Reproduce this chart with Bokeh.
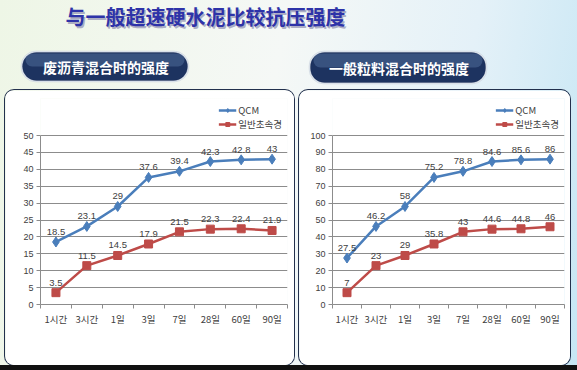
from bokeh.plotting import figure
from bokeh.models import (FactorRange, Range1d, LinearAxis, CategoricalAxis, FixedTicker,
                          Legend, LegendItem, ColumnDataSource, BoxAnnotation, Label, Spacer)
from bokeh.layouts import column, row
from bokeh.core.properties import value
from bokeh.embed import file_html
from bokeh.resources import INLINE

# ---- data ----
CATS = ["1시간", "3시간", "1일", "3일", "7일", "28일", "60일", "90일"]
LEFT_QCM = [18.5, 23.1, 29, 37.6, 39.4, 42.3, 42.8, 43]
LEFT_GEN = [3.5, 11.5, 14.5, 17.9, 21.5, 22.3, 22.4, 21.9]
RIGHT_QCM = [27.5, 46.2, 58, 75.2, 78.8, 84.6, 85.6, 86]
RIGHT_GEN = [7, 23, 29, 35.8, 43, 44.6, 44.8, 46]
SERIES = ["QCM", "일반초속경"]
TITLE = "与一般超速硬水泥比较抗压强度"
SUB_LEFT = "废沥青混合时的强度"
SUB_RIGHT = "一般粒料混合时的强度"

BLUE = "#4a7ebb"
RED = "#be4b48"
TXT = "#404040"
GRID = "#8c8c8c"
KR = "Noto Sans CJK KR"
CN = "Noto Sans CJK SC"


def fmt(v):
    return f"{v:g}"


def make_chart(qcm, gen, ymax, ystep, width, bl, br, lmargin):
    frame_h = 169
    extra = 37
    y_end = ymax + extra * ymax / frame_h
    p = figure(width=width, height=275, title=None,
               x_range=FactorRange(*CATS, range_padding=0),
               y_range=Range1d(0, y_end),
               x_axis_location=None, y_axis_location=None,
               output_backend="svg", toolbar_location=None,
               min_border_left=bl, min_border_right=br,
               min_border_top=8, min_border_bottom=61,
               background_fill_color="white", border_fill_color="white",
               outline_line_color=None)
    p.xgrid.visible = False
    ticks = list(range(0, ymax + 1, ystep))
    p.ygrid.ticker = FixedTicker(ticks=ticks)
    p.ygrid.grid_line_color = GRID
    p.ygrid.grid_line_width = 1

    yax = LinearAxis(ticker=FixedTicker(ticks=ticks), bounds=(0, ymax),
                     axis_line_color=GRID, major_tick_line_color=GRID,
                     major_tick_out=4, major_tick_in=0, minor_tick_line_color=None,
                     major_label_text_font_size="9px", major_label_text_color=TXT,
                     major_label_text_font="Liberation Sans", major_label_standoff=3)
    p.add_layout(yax, "left")

    # tick marks on category boundaries (synthetic coordinates of the factor range)
    edge_ticks = list(range(len(CATS) + 1))
    tax = LinearAxis(ticker=FixedTicker(ticks=edge_ticks),
                     major_label_overrides={t: "" for t in edge_ticks},
                     axis_line_color=GRID, major_tick_line_color=GRID,
                     major_tick_out=4, major_tick_in=0, minor_tick_line_color=None,
                     major_label_text_font_size="1px", major_label_standoff=0)
    p.add_layout(tax, "below")
    cax = CategoricalAxis(axis_line_color=None, major_tick_line_color=None,
                          minor_tick_line_color=None,
                          major_label_text_font_size="9.5px", major_label_text_color=TXT,
                          major_label_text_font=KR, major_label_standoff=-3)
    p.add_layout(cax, "below")

    src = ColumnDataSource(dict(x=CATS, qcm=qcm, gen=gen,
                                qlab=[fmt(v) for v in qcm], glab=[fmt(v) for v in gen]))
    lq = p.line("x", "qcm", source=src, line_color=BLUE, line_width=2.5)
    mq = p.scatter("x", "qcm", source=src, marker="diamond", size=10,
                   fill_color=BLUE, line_color=BLUE)
    lg = p.line("x", "gen", source=src, line_color=RED, line_width=2.5)
    mg = p.scatter("x", "gen", source=src, marker="square", size=8,
                   fill_color=RED, line_color=RED)
    for col, lab in (("qcm", "qlab"), ("gen", "glab")):
        p.text("x", col, text=lab, source=src, text_align="center",
               text_baseline="bottom", y_offset=-7, text_font_size="9.5px",
               text_color=TXT, text_font=value("Liberation Sans"))

    legend = Legend(items=[LegendItem(label=SERIES[0], renderers=[lq, mq]),
                           LegendItem(label=SERIES[1], renderers=[lg, mg])],
                    location="top_right", margin=lmargin, padding=0, spacing=0,
                    glyph_width=18, glyph_height=10, label_height=10,
                    label_standoff=2, label_text_font_size="9.5px",
                    label_text_font=KR, label_text_color=TXT,
                    border_line_color=None, background_fill_alpha=0)
    p.add_layout(legend)
    return p


# ---- header ----
hdr = figure(width=577, height=90, title=None, x_range=Range1d(0, 577), y_range=Range1d(90, 0),
             output_backend="svg", toolbar_location=None, min_border=0,
             x_axis_location=None, y_axis_location=None,
             background_fill_alpha=0, border_fill_alpha=0, outline_line_color=None)
hdr.grid.visible = False
hdr.add_layout(Label(x=206.5, y=17.5, text=TITLE, text_align="center", text_baseline="middle",
                     text_font=CN, text_font_style="bold", text_font_size="20px",
                     text_color="#9a9ab8", text_alpha=0.8))
hdr.add_layout(Label(x=205, y=16, text=TITLE, text_align="center", text_baseline="middle",
                     text_font=CN, text_font_style="bold", text_font_size="20px",
                     text_color="#2e33a8"))
for (l, r, t, b, txt) in ((22, 187, 52, 80, SUB_LEFT), (310, 485, 52, 82, SUB_RIGHT)):
    hdr.add_layout(BoxAnnotation(left=l - 1.5, right=r + 1.5, top=t - 1.5, bottom=b + 1.5,
                                 border_radius=15, fill_color="#dfe6ee", fill_alpha=1,
                                 line_color="#b8c2cf", line_width=1))
    hdr.add_layout(BoxAnnotation(left=l, right=r, top=t, bottom=b, border_radius=14,
                                 fill_color="#1d3360", fill_alpha=1, line_color="#14264c",
                                 line_width=1))
    hdr.add_layout(BoxAnnotation(left=l + 3, right=r - 3, top=t + 1, bottom=(t + b) / 2,
                                 border_radius=10, fill_color="#6d8cba", fill_alpha=0.35,
                                 line_color=None))
    hdr.add_layout(Label(x=(l + r) / 2 + 1, y=(t + b) / 2 + 0.5, text=txt, text_align="center",
                         text_baseline="middle", text_font=CN, text_font_style="bold",
                         text_font_size="14px", text_color="white"))

left = make_chart(LEFT_QCM, LEFT_GEN, 50, 5, 289, 35, 7, 5)
right = make_chart(RIGHT_QCM, RIGHT_GEN, 100, 10, 271, 33, 6, 5)
panel_css = {"border-radius": "9px", "box-shadow": "0 0 0 1px #22304d", "overflow": "hidden"}
left.styles = panel_css
right.styles = panel_css
left.margin = (0, 0, 0, 5)
right.margin = (0, 0, 0, 5)

body = row(left, right)
foot = Spacer(width=577, height=5, styles={"background": "#111"})
page = column(hdr, body, foot)
page.styles = {"background": "linear-gradient(100deg, #eef6e6 0%, #f5f8f6 45%, #e4f1f8 75%, #c6e6f4 100%)"}

open("out.html", "w").write(file_html(page, INLINE))
